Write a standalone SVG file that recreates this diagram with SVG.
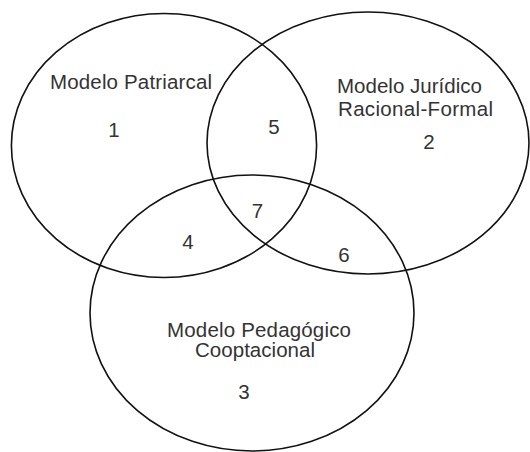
<svg xmlns="http://www.w3.org/2000/svg" width="530" height="452" viewBox="0 0 530 452">
<style>
.set{fill:none;stroke:#111;stroke-width:1.6}
.lbl{font-family:"Liberation Sans",Arial,sans-serif;font-size:20.5px;fill:#333}
.num{font-family:"Liberation Sans",Arial,sans-serif;font-size:20.5px;fill:#333;text-anchor:middle}
</style>
<rect width="530" height="452" fill="#fff"/>
<g id="set-patriarcal">
<ellipse class="set" cx="164" cy="145.5" rx="152.6" ry="132"/>
<text class="lbl" x="50" y="89" textLength="162">Modelo Patriarcal</text>
<text class="num" x="114" y="137">1</text>
</g>
<g id="set-juridico">
<ellipse class="set" cx="368" cy="143" rx="161" ry="131"/>
<text class="lbl" x="337" y="93" textLength="145">Modelo Jurídico</text>
<text class="lbl" x="338" y="116" textLength="155">Racional-Formal</text>
<text class="num" x="429" y="149">2</text>
</g>
<g id="set-pedagogico">
<ellipse class="set" cx="252" cy="313" rx="162" ry="138"/>
<text class="lbl" x="167" y="337" textLength="184">Modelo Pedagógico</text>
<text class="lbl" x="195" y="357" textLength="120">Cooptacional</text>
<text class="num" x="244" y="399">3</text>
</g>
<g id="regions">
<text class="num" x="188" y="248.5">4</text>
<text class="num" x="274" y="133.5">5</text>
<text class="num" x="344" y="262">6</text>
<text class="num" x="257.5" y="218">7</text>
</g>
<g id="connectors"/>
</svg>
